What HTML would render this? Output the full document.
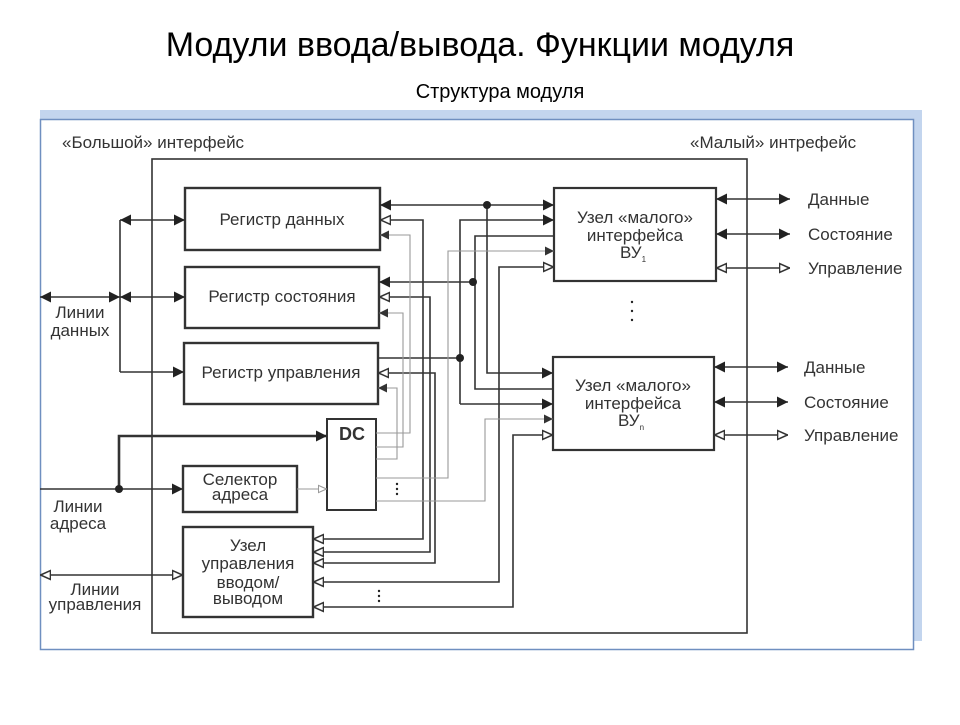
<!DOCTYPE html>
<html><head><meta charset="utf-8"><style>
body{margin:0;background:#fff;width:960px;height:720px;overflow:hidden}
svg text{font-family:"Liberation Sans","DejaVu Sans",sans-serif;fill:#333}
</style></head><body>
<svg width="960" height="720" viewBox="0 0 960 720" xmlns="http://www.w3.org/2000/svg">
<defs>
<marker id="f" viewBox="0 0 10 10" refX="10" refY="5" markerWidth="11" markerHeight="11" markerUnits="userSpaceOnUse" orient="auto-start-reverse"><path d="M0,0L10,5L0,10z" fill="#222"/></marker>
<marker id="h" viewBox="0 0 10 10" refX="10" refY="5" markerWidth="11" markerHeight="11" markerUnits="userSpaceOnUse" orient="auto-start-reverse"><path d="M0.5,1L9.5,5L0.5,9z" fill="#fff" stroke="#333" stroke-width="1.4"/></marker>
<marker id="g" viewBox="0 0 10 10" refX="10" refY="5" markerWidth="9" markerHeight="9" markerUnits="userSpaceOnUse" orient="auto"><path d="M0,0L10,5L0,10z" fill="#333"/></marker>
<marker id="gh" viewBox="0 0 10 10" refX="10" refY="5" markerWidth="9" markerHeight="9" markerUnits="userSpaceOnUse" orient="auto"><path d="M0.5,1L9.5,5L0.5,9z" fill="#fff" stroke="#999" stroke-width="1.2"/></marker>
</defs>
<text x="480" y="56" font-size="34" text-anchor="middle" style="fill:#000">Модули ввода/вывода. Функции модуля</text>
<text x="500" y="98" font-size="20" text-anchor="middle" style="fill:#000">Структура модуля</text>
<rect x="40" y="110" width="882" height="9" fill="#c3d5ee"/>
<rect x="913" y="110" width="9" height="531" fill="#c3d5ee"/>
<rect x="40.5" y="119.5" width="873" height="530" fill="#fff" stroke="#6f8fc0" stroke-width="1.5"/>
<g font-size="17">
<text x="62" y="148">«Большой» интерфейс</text>
<text x="690" y="148">«Малый» интрефейс</text>
</g>
<g stroke="#333" fill="none" stroke-width="1.6">
<rect x="152" y="159" width="595" height="474"/>
<rect x="185" y="188" width="195" height="62" stroke-width="2.4"/>
<rect x="185" y="267" width="194" height="61" stroke-width="2.4"/>
<rect x="184" y="343" width="194" height="61" stroke-width="2.4"/>
<rect x="327" y="419" width="49" height="91" stroke-width="2"/>
<rect x="183" y="466" width="114" height="46" stroke-width="2.4"/>
<rect x="183" y="527" width="130" height="90" stroke-width="2.4"/>
<rect x="554" y="188" width="162" height="93" stroke-width="2.2"/>
<rect x="553" y="357" width="161" height="93" stroke-width="2.2"/>
<line x1="40" y1="297" x2="120" y2="297" marker-start="url(#f)" marker-end="url(#f)"/>
<line x1="120" y1="220" x2="120" y2="372"/>
<line x1="120" y1="220" x2="185" y2="220" marker-start="url(#f)" marker-end="url(#f)"/>
<line x1="120" y1="297" x2="185" y2="297" marker-start="url(#f)" marker-end="url(#f)"/>
<polyline points="120,372 184,372" marker-end="url(#f)"/>
<line x1="40" y1="489" x2="183" y2="489" marker-end="url(#f)"/>
<polyline points="119,489 119,436 327,436" stroke-width="2.6" marker-end="url(#f)"/>
<line x1="40" y1="575" x2="183" y2="575" marker-start="url(#h)" marker-end="url(#h)"/>
<line x1="716" y1="199" x2="790" y2="199" marker-start="url(#f)" marker-end="url(#f)"/>
<line x1="716" y1="234" x2="790" y2="234" marker-start="url(#f)" marker-end="url(#f)"/>
<line x1="716" y1="268" x2="790" y2="268" marker-start="url(#h)" marker-end="url(#h)"/>
<line x1="714" y1="367" x2="788" y2="367" marker-start="url(#f)" marker-end="url(#f)"/>
<line x1="714" y1="402" x2="788" y2="402" marker-start="url(#f)" marker-end="url(#f)"/>
<line x1="714" y1="435" x2="788" y2="435" marker-start="url(#h)" marker-end="url(#h)"/>
<line x1="380" y1="205" x2="554" y2="205" marker-start="url(#f)" marker-end="url(#f)"/>
<polyline points="487,205 487,373 553,373" marker-end="url(#f)"/>
<polyline points="313,539 423,539 423,220 380,220" marker-start="url(#h)" marker-end="url(#h)"/>
<polyline points="460,404 460,220 554,220" marker-end="url(#f)"/>
<polyline points="460,404 553,404" marker-end="url(#f)"/>
<polyline points="554,236 475,236 475,389 553,389"/>
<polyline points="473,282 379,282" marker-end="url(#f)"/>
<polyline points="378,358 460,358"/>
<polyline points="554,267 499,267 499,582 313,582" marker-start="url(#h)" marker-end="url(#h)"/>
<polyline points="313,552 430,552 430,297 379,297" marker-start="url(#h)" marker-end="url(#h)"/>
<polyline points="313,563 435,563 435,373 378,373" marker-start="url(#h)" marker-end="url(#h)"/>
<polyline points="553,435 513,435 513,607 313,607" marker-start="url(#h)" marker-end="url(#h)"/>
</g>
<g stroke="#999" fill="none" stroke-width="1.1">
<polyline points="376,433 410,433 410,235 380,235" marker-end="url(#g)"/>
<polyline points="376,447 403,447 403,313 379,313" marker-end="url(#g)"/>
<polyline points="376,459 397,459 397,388 378,388" marker-end="url(#g)"/>
<polyline points="376,478 448,478 448,251 554,251" marker-end="url(#g)"/>
<polyline points="376,501 485,501 485,419 553,419" marker-end="url(#g)"/>
<line x1="297" y1="489" x2="327" y2="489" marker-end="url(#gh)"/>
</g>
<g fill="#222">
<circle cx="487" cy="205" r="4"/><circle cx="473" cy="282" r="4"/><circle cx="460" cy="358" r="4"/><circle cx="119" cy="489" r="4"/>
<circle cx="397" cy="484" r="1.2"/><circle cx="397" cy="489" r="1.2"/><circle cx="397" cy="494" r="1.2"/>
<circle cx="379" cy="591" r="1.2"/><circle cx="379" cy="596" r="1.2"/><circle cx="379" cy="601" r="1.2"/>
<circle cx="632" cy="302" r="1.2"/><circle cx="632" cy="311" r="1.2"/><circle cx="632" cy="320" r="1.2"/>
</g>
<g font-size="17" text-anchor="middle">
<text x="282" y="225">Регистр данных</text>
<text x="282" y="302">Регистр состояния</text>
<text x="281" y="378">Регистр управления</text>
<text x="352" y="440" font-size="18" font-weight="bold">DC</text>
<text x="240" y="485">Селектор</text><text x="240" y="500">адреса</text>
<text x="248" y="551">Узел</text><text x="248" y="569">управления</text><text x="248" y="588">вводом/</text><text x="248" y="604">выводом</text>
<text x="635" y="223">Узел «малого»</text><text x="635" y="241">интерфейса</text><text x="633" y="258">ВУ<tspan font-size="8" dy="4">1</tspan></text>
<text x="633" y="391">Узел «малого»</text><text x="633" y="409">интерфейса</text><text x="631" y="426">ВУ<tspan font-size="8" dy="4">n</tspan></text>
<text x="80" y="318">Линии</text><text x="80" y="336">данных</text>
<text x="78" y="512">Линии</text><text x="78" y="529">адреса</text>
<text x="95" y="595">Линии</text><text x="95" y="610">управления</text>
</g>
<g font-size="17">
<text x="808" y="205">Данные</text><text x="808" y="240">Состояние</text><text x="808" y="274">Управление</text>
<text x="804" y="373">Данные</text><text x="804" y="408">Состояние</text><text x="804" y="441">Управление</text>
</g>
</svg>
</body></html>
